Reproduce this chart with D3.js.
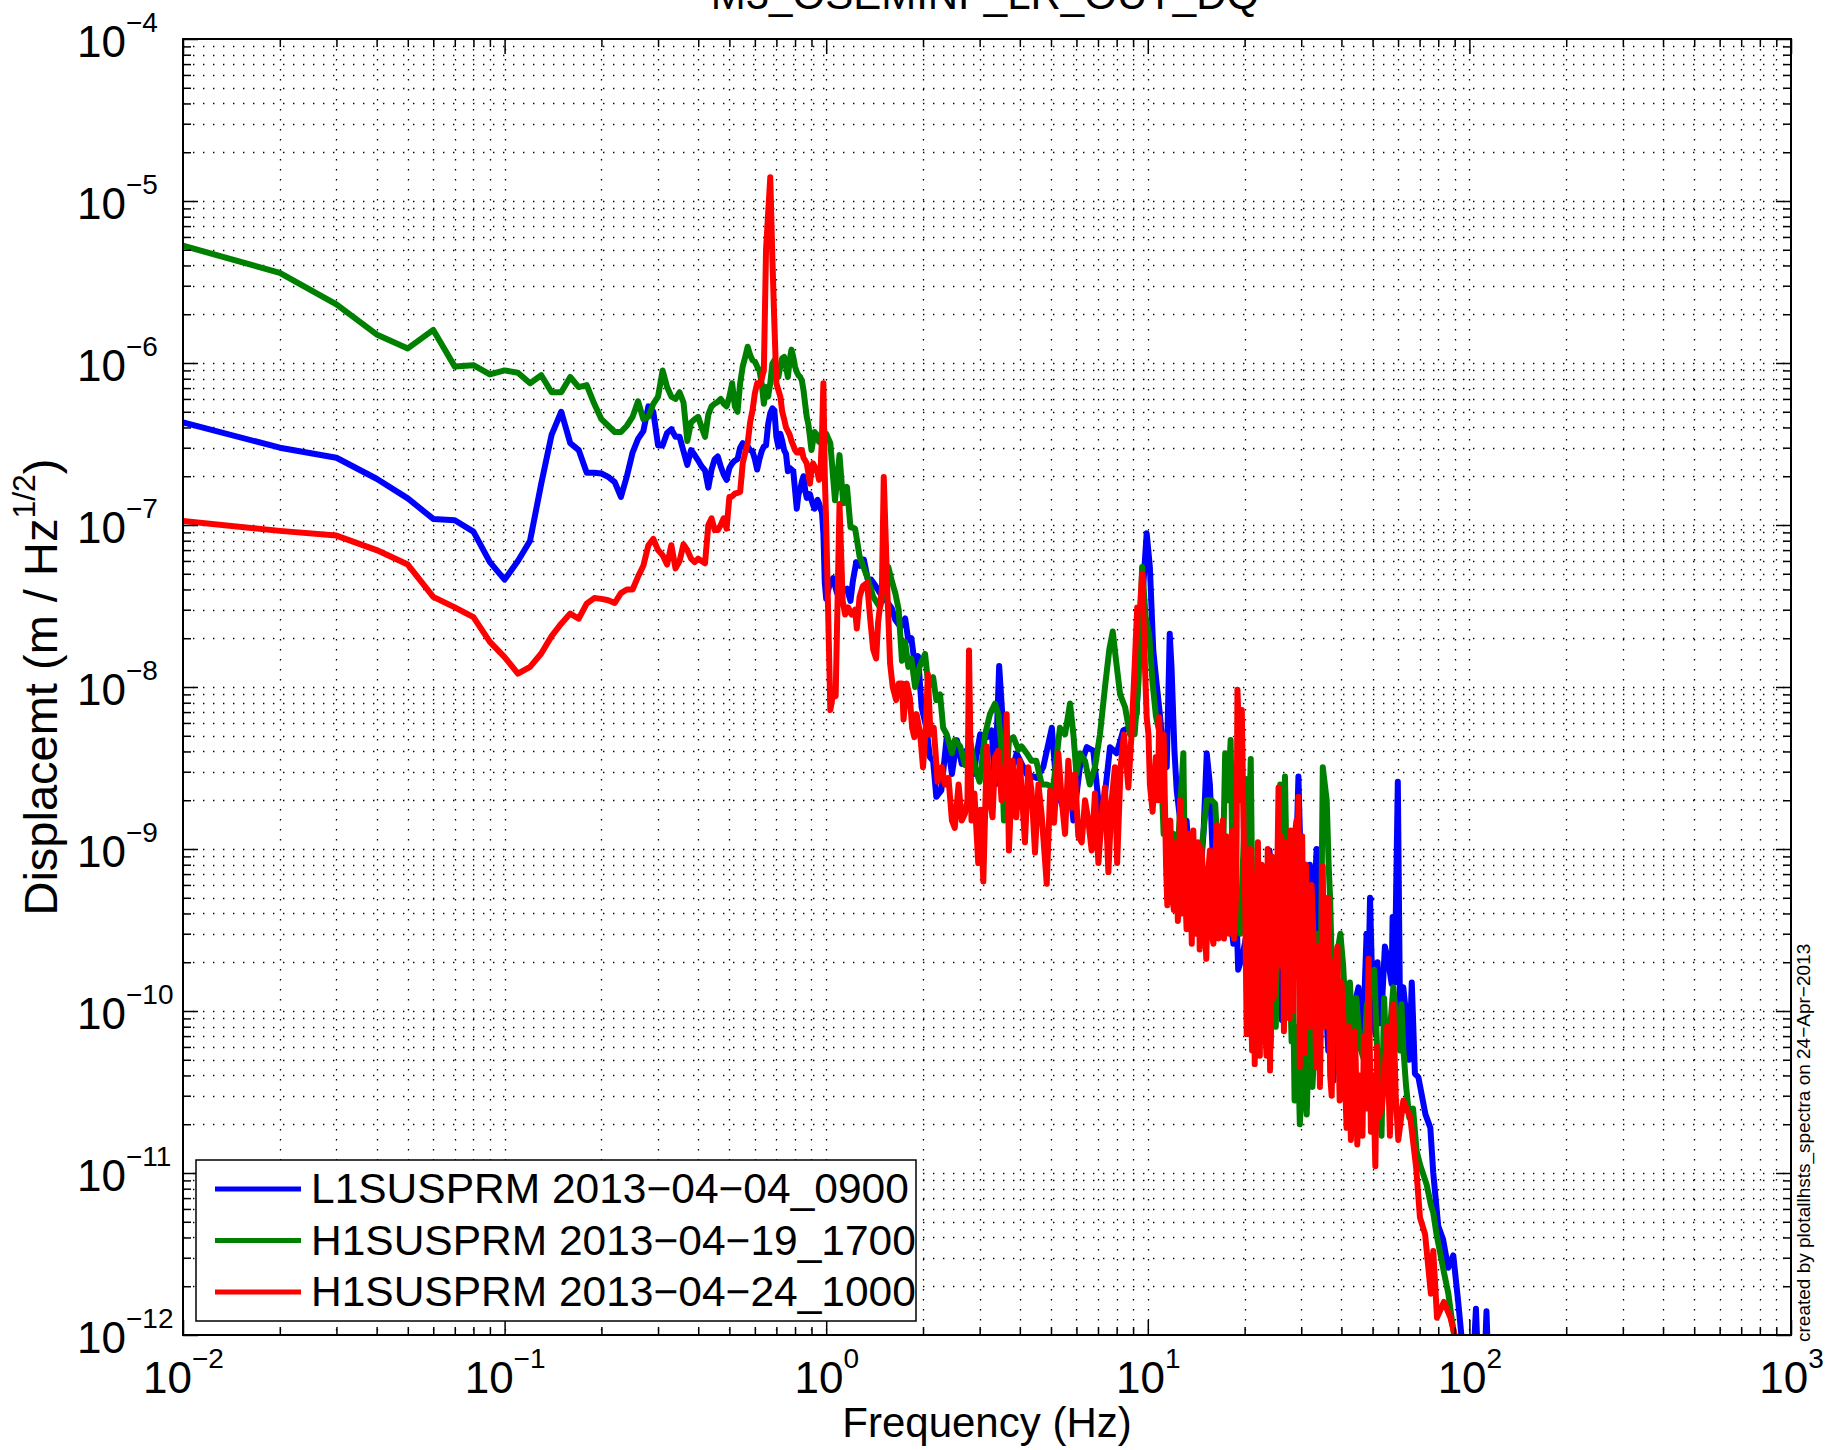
<!DOCTYPE html>
<html><head><meta charset="utf-8"><title>M3_OSEMINF_LR_OUT_DQ</title>
<script src="https://cdn.jsdelivr.net/npm/d3@7/dist/d3.min.js"></script>
<style>html,body{margin:0;padding:0;background:#fff;}svg{display:block;}</style>
</head><body>
<svg id="chart" width="1839" height="1450"></svg>
<script>
// ---------------- DATA ----------------
const chartTitle = "M3_OSEMINF_LR_OUT_DQ";
const xLabel = "Frequency (Hz)";
const yLabelMain = "Displacemt (m / Hz";
const yLabelSup = "1/2";
const sideNote = "created by plotallhsts_spectra on 24\u2212Apr\u22122013";
const seriesNames = ["L1SUSPRM 2013\u221204\u221204_0900", "H1SUSPRM 2013\u221204\u221219_1700", "H1SUSPRM 2013\u221204\u221224_1000"];
const seriesColors = ["#0000ff", "#008000", "#ff0000"];
const xDomain = [1e-2, 1e3];
const yDomain = [1e-12, 1e-4];
const xMajorTicks = [1e-2, 1e-1, 1, 10, 100, 1000];
const yMajorTicks = [1e-12, 1e-11, 1e-10, 1e-9, 1e-8, 1e-7, 1e-6, 1e-5, 1e-4];

// low-frequency grid (Hz)
const lowFreq = [0.01,0.02,0.03,0.04,0.05,0.06,0.07,0.08,0.09,0.10,
 0.11,0.12,0.13,0.14,0.15,0.16,0.17,0.18,0.19,0.20,
 0.21,0.22,0.23,0.24,0.25,0.26,0.27,0.28,0.29,0.30,
 0.31,0.32,0.33,0.34,0.35,0.36,0.37,0.38,0.39,0.40,
 0.41,0.42,0.43,0.44,0.45,0.46,0.47,0.48,0.49,0.50,
 0.51,0.52,0.53,0.54,0.55,0.56,0.57,0.58,0.59,0.60,
 0.61,0.62,0.63,0.64,0.65,0.66,0.67,0.68,0.69,0.70,
 0.71,0.72,0.73,0.74,0.75,0.76,0.77,0.78,0.79,0.80,
 0.81,0.82,0.83,0.84,0.85,0.86,0.87,0.88,0.89,0.90,
 0.91,0.92,0.93,0.94,0.95,0.96,0.97,0.98,0.99,1.00];

const l1Low = [4.3e-7,3.0e-7,2.6e-7,1.93e-7,1.46e-7,1.09e-7,1.07e-7,9.1e-8,5.9e-8,4.6e-8,
 6.0e-8,8.0e-8,1.8e-7,3.6e-7,5.0e-7,3.2e-7,2.9e-7,2.1e-7,2.1e-7,2.08e-7,
 1.98e-7,1.84e-7,1.49e-7,2.0e-7,2.8e-7,3.4e-7,3.8e-7,5.4e-7,5.0e-7,3.1e-7,
 3.1e-7,3.7e-7,3.9e-7,3.5e-7,3.5e-7,2.85e-7,2.35e-7,2.9e-7,2.7e-7,2.5e-7,
 2.3e-7,2.17e-7,1.7e-7,2.2e-7,2.55e-7,2.65e-7,2.3e-7,2.05e-7,1.9e-7,2.25e-7,
 2.4e-7,2.5e-7,2.55e-7,3.0e-7,3.2e-7,3.1e-7,3.05e-7,2.9e-7,2.85e-7,2.55e-7,
 2.2e-7,2.55e-7,2.85e-7,3.05e-7,3.1e-7,4.2e-7,4.9e-7,5.25e-7,5.1e-7,3.5e-7,
 3.05e-7,3.66e-7,3.3e-7,2.9e-7,2.75e-7,2.15e-7,2.25e-7,2.2e-7,2.15e-7,1.65e-7,
 1.26e-7,1.55e-7,1.65e-7,1.85e-7,2.0e-7,1.65e-7,1.47e-7,1.5e-7,1.55e-7,1.43e-7,
 1.33e-7,1.26e-7,1.36e-7,1.43e-7,1.36e-7,1.26e-7,1.2e-7,8.9e-8,4.4e-8,3.5e-8];

const h1aLow = [5.3e-6,3.6e-6,2.3e-6,1.5e-6,1.23e-6,1.6e-6,9.5e-7,9.7e-7,8.5e-7,9.0e-7,
 8.7e-7,7.5e-7,8.4e-7,6.6e-7,6.6e-7,8.2e-7,7.1e-7,7.3e-7,5.6e-7,4.5e-7,
 4.1e-7,3.75e-7,3.75e-7,4.1e-7,4.65e-7,5.8e-7,4.5e-7,4.65e-7,5.6e-7,6.2e-7,
 9.0e-7,7.1e-7,6.2e-7,6.0e-7,6.6e-7,5.7e-7,3.3e-7,4.3e-7,4.5e-7,4.65e-7,
 4.0e-7,3.5e-7,4.8e-7,5.4e-7,5.6e-7,5.75e-7,6.0e-7,5.6e-7,5.4e-7,6.2e-7,
 7.5e-7,5.4e-7,5.0e-7,7.5e-7,9.5e-7,1.09e-6,1.26e-6,1.12e-6,1.04e-6,1.02e-6,
 9.5e-7,9.0e-7,7.5e-7,5.6e-7,7.1e-7,6.2e-7,7.5e-7,9.9e-7,1.04e-6,9.0e-7,
 8.2e-7,9.5e-7,1.07e-6,1.09e-6,9.5e-7,8.2e-7,1.04e-6,1.21e-6,1.09e-6,9.5e-7,
 8.8e-7,8.4e-7,8.2e-7,7.8e-7,6.8e-7,5.6e-7,4.65e-7,4.2e-7,3.5e-7,2.9e-7,
 3.3e-7,3.75e-7,3.66e-7,3.4e-7,3.26e-7,3.5e-7,3.66e-7,3.3e-7,3.5e-7,3.66e-7];

const h1bLow = [1.06e-7,9.2e-8,8.6e-8,7.0e-8,5.7e-8,3.6e-8,3.1e-8,2.7e-8,1.9e-8,1.53e-8,
 1.21e-8,1.33e-8,1.61e-8,2.06e-8,2.46e-8,2.84e-8,2.64e-8,3.27e-8,3.54e-8,3.5e-8,
 3.43e-8,3.3e-8,3.8e-8,4.0e-8,4.0e-8,4.8e-8,5.6e-8,7.5e-8,8.2e-8,7.0e-8,
 6.5e-8,5.7e-8,7.5e-8,5.4e-8,6.0e-8,7.6e-8,7.0e-8,6.2e-8,5.9e-8,6.2e-8,
 6.0e-8,5.8e-8,1.0e-7,1.1e-7,9.3e-8,9.3e-8,1.0e-7,1.1e-7,9.5e-8,1.49e-7,
 1.5e-7,1.56e-7,1.58e-7,1.6e-7,2.4e-7,2.8e-7,3.2e-7,4.3e-7,5.1e-7,6.5e-7,
 7.5e-7,7.3e-7,8.0e-7,9.0e-7,5.0e-6,8.4e-6,1.4e-5,4.5e-6,1.75e-6,7.5e-7,
 6.8e-7,6.2e-7,5.0e-7,4.5e-7,4.0e-7,3.8e-7,3.6e-7,3.3e-7,3.1e-7,2.9e-7,
 2.8e-7,2.8e-7,2.9e-7,2.9e-7,2.6e-7,2.5e-7,2.4e-7,2.1e-7,1.8e-7,2.2e-7,
 2.4e-7,2.3e-7,2.2e-7,2.1e-7,1.9e-7,2.1e-7,3.5e-7,7.5e-7,2.0e-7,1.0e-7];

// above 1 Hz: [frequency (Hz), displacement]
const l1High = [[1.03,4.5e-8],[1.05,4.7e-8],[1.08,3.8e-8],[1.10,4.35e-8],[1.13,3.95e-8],[1.16,4.05e-8],[1.19,3.4e-8],[1.21,4.5e-8],[1.24,5.9e-8],[1.27,5.6e-8],[1.31,6.1e-8],[1.35,4.5e-8],[1.38,4.6e-8],[1.42,4.25e-8],[1.47,3.8e-8],[1.54,3.4e-8],[1.60,3.05e-8],[1.64,2.6e-8],[1.70,2.35e-8],[1.76,2.65e-8],[1.80,1.95e-8],[1.84,2.0e-8],[1.89,1.33e-8],[1.93,1.55e-8],[1.98,7.5e-9],[2.05,5.6e-9],[2.10,3.7e-9],[2.15,3.5e-9],[2.20,2.1e-9],[2.28,2.3e-9],[2.37,4.9e-9],[2.46,2.9e-9],[2.55,4.7e-9],[2.64,3.35e-9],[2.73,4.05e-9],[2.87,2.9e-9],[3.01,5.1e-9],[3.16,4.9e-9],[3.27,5.4e-9],[3.35,2.5e-9],[3.45,1.35e-8],[3.56,5.1e-9],[3.73,2.75e-9],[3.91,3.9e-9],[4.20,2.9e-9],[4.51,2.75e-9],[4.73,3.2e-9],[5.03,5.6e-9],[5.21,2.3e-9],[5.46,1.8e-9],[5.73,2.4e-9],[5.87,1.5e-9],[6.15,3.2e-9],[6.46,4.25e-9],[6.77,4.05e-9],[7.10,1.57e-9],[7.36,2.2e-9],[7.63,4.25e-9],[8.00,3.9e-9],[8.39,5.4e-9],[8.80,5.6e-9],[9.23,6.8e-9],[9.46,2.13e-8],[9.69,4.35e-8],[9.92,8.9e-8],[10.15,5.5e-8],[10.4,1.68e-8],[10.65,1.05e-8],[10.9,6.8e-9],[11.2,3.7e-9],[11.45,3.2e-9],[11.7,2.13e-8],[11.85,1.33e-8],[12.1,4.05e-9],[12.3,2.3e-9],[12.75,1.24e-9],[13.2,1.5e-9],[13.5,7.7e-10],[14.0,3.8e-10],[14.5,6.1e-10],[14.9,1.24e-9],[15.25,3.9e-9],[15.6,2.5e-9],[16.2,3.8e-10],[16.8,4.8e-10],[17.4,3.0e-10],[17.9,4.5e-10],[18.45,2.6e-10],[18.9,3.5e-10],[19.1,1.8e-10],[19.7,2.2e-10],[20.3,3.0e-10],[21.0,4.0e-10],[21.8,2.7e-10],[22.3,2.0e-10],[22.9,4.8e-10],[23.4,3.0e-10],[23.9,9.8e-10],[24.4,5.0e-10],[24.9,1.47e-10],[25.5,3.0e-10],[26.1,8.8e-11],[26.6,5.0e-10],[27.0,1.86e-10],[27.5,1.2e-10],[28.0,3.6e-10],[28.7,5.0e-10],[29.0,1.0e-9],[29.4,2.8e-9],[30.0,6.0e-10],[30.5,3.0e-10],[31.2,2.0e-10],[31.9,8.0e-10],[32.7,3.5e-10],[33.5,1.0e-9],[34.1,2.5e-10],[34.7,9.1e-11],[35.5,1.5e-10],[36.4,5.7e-11],[37.0,1.0e-10],[37.75,3.7e-11],[38.6,8.0e-11],[39.6,4.5e-11],[40.6,1.1e-10],[41.5,5.9e-11],[42.5,4.0e-11],[43.6,8.6e-11],[44.4,1.2e-10],[45.2,1.4e-10],[46.0,6.0e-11],[46.9,9.1e-11],[47.9,3.0e-10],[48.5,1.5e-10],[49.1,5.0e-10],[50.0,1.2e-10],[51.0,7.2e-11],[51.8,2.0e-10],[52.7,8.4e-11],[53.6,1.2e-10],[54.6,2.5e-10],[56.0,2.0e-10],[57.3,1.47e-10],[57.7,3.8e-10],[58.6,1.5e-10],[59.9,2.6e-9],[60.8,1.16e-10],[61.5,6.0e-11],[62.3,1.4e-10],[63.8,8.8e-11],[65.0,5.0e-11],[66.2,1.5e-10],[67.7,4.1e-11],[69.4,3.9e-11],[73.0,2.3e-11],[75.6,1.9e-11],[77.2,1.0e-11],[80.0,4.7e-12],[82.8,3.9e-12],[85.9,2.6e-12],[89.1,3.1e-12],[92.3,1.6e-12],[94.5,9.8e-13],[98,6e-13],[102,5e-13],[104.8,1.45e-12],[107,5e-13],[111,5e-13],[113,1.4e-12],[115,5e-13]];

const h1aHigh = [[1.03,3.2e-7],[1.065,1.42e-7],[1.10,2.7e-7],[1.13,1.36e-7],[1.16,1.72e-7],[1.19,9.7e-8],[1.23,9.5e-8],[1.27,6.4e-8],[1.34,4.8e-8],[1.40,3.6e-8],[1.47,3.1e-8],[1.52,4.1e-8],[1.56,5.5e-8],[1.60,4.5e-8],[1.64,3.8e-8],[1.68,3.0e-8],[1.72,1.45e-8],[1.76,1.9e-8],[1.80,1.33e-8],[1.84,1.5e-8],[1.89,1.0e-8],[1.95,1.33e-8],[2.03,1.6e-8],[2.08,1.0e-8],[2.15,1.15e-8],[2.20,8.3e-9],[2.26,9.0e-9],[2.31,5.6e-9],[2.37,5.1e-9],[2.46,3.9e-9],[2.51,4.7e-9],[2.61,4.3e-9],[2.70,3.3e-9],[2.80,4.7e-9],[2.90,3.2e-9],[3.00,2.6e-9],[3.12,5.1e-9],[3.23,6.8e-9],[3.35,7.9e-9],[3.43,6.8e-9],[3.51,4.1e-9],[3.57,1.5e-9],[3.70,4.7e-9],[3.82,4.9e-9],[3.96,4.1e-9],[4.05,4.3e-9],[4.20,3.9e-9],[4.35,3.5e-9],[4.50,3.5e-9],[4.68,2.5e-9],[4.85,2.5e-9],[5.08,2.4e-9],[5.33,5.6e-9],[5.53,5.1e-9],[5.73,7.9e-9],[5.87,5.1e-9],[6.00,2.9e-9],[6.15,3.9e-9],[6.38,3.5e-9],[6.60,2.5e-9],[6.85,3.2e-9],[7.10,5.1e-9],[7.36,1.0e-8],[7.59,1.7e-8],[7.78,2.2e-8],[7.97,1.45e-8],[8.20,9.0e-9],[8.50,7.5e-9],[8.80,5.1e-9],[9.10,5.1e-9],[9.35,1.05e-8],[9.60,5.5e-8],[9.85,2.7e-8],[10.1,2.1e-8],[10.35,1.05e-8],[10.6,6.6e-9],[10.9,5.1e-9],[11.2,1.24e-9],[11.45,1.5e-9],[11.7,6.1e-10],[12.0,1.24e-9],[12.4,1.0e-9],[12.9,3.9e-9],[13.05,6.1e-10],[13.5,4.8e-10],[14.1,6.1e-10],[14.6,8.7e-10],[15.25,2.0e-9],[15.8,2.0e-9],[16.2,1.9e-9],[16.6,7.7e-10],[17.0,3.8e-10],[17.4,3.9e-9],[17.7,2.0e-9],[18.1,4.7e-9],[18.45,3.4e-10],[18.9,4.8e-10],[19.4,3.0e-10],[20.2,2.7e-9],[20.5,7.7e-10],[20.9,3.6e-9],[21.2,2.6e-10],[21.5,1.6e-10],[21.8,4.0e-10],[22.3,7.7e-10],[22.6,1.5e-10],[22.9,3.0e-10],[23.3,1.2e-10],[23.7,5.0e-10],[24.1,6.0e-11],[24.5,2.0e-10],[25.0,8.0e-11],[25.4,6.0e-10],[25.8,2.5e-9],[26.2,3.0e-10],[26.7,2.8e-9],[26.9,1.2e-9],[27.1,6.1e-10],[27.5,2.4e-10],[28.0,6.5e-11],[28.3,1.5e-10],[28.6,2.8e-11],[29.2,8.0e-11],[29.7,2.0e-11],[30.5,6.0e-11],[31.2,2.3e-11],[31.8,1.0e-10],[32.5,3.4e-11],[33.0,6.0e-11],[33.5,3.0e-10],[34.3,5.7e-11],[34.6,3.0e-10],[35.0,3.2e-9],[36.0,2.0e-9],[36.5,8.0e-10],[36.9,4.9e-10],[37.3,2.0e-10],[37.8,1.2e-10],[38.4,9.0e-11],[39.0,2.4e-10],[39.7,3.0e-10],[40.5,1.9e-10],[41.0,1.2e-10],[41.5,7.0e-11],[42.5,1.5e-10],[43.5,5.7e-11],[44.5,1.2e-10],[45.7,6.0e-11],[47.0,5.0e-11],[48.0,1.1e-10],[49.5,1.3e-10],[50.6,1.8e-10],[52.0,4.0e-11],[53.3,1.7e-11],[54.3,1.2e-10],[55.3,4.5e-11],[56.2,3.0e-11],[57.0,9.0e-11],[58.0,1.4e-10],[59.3,9.0e-11],[60.8,5.7e-11],[61.5,1.1e-10],[62.3,5.9e-11],[63.5,3.5e-11],[65.0,2.2e-11],[66.8,2.5e-11],[68.5,1.37e-11],[70.2,1.13e-11],[73.6,8.5e-12],[76.0,6.3e-12],[77.2,5.7e-12],[79.0,4.2e-12],[82.8,2.6e-12],[86.0,1.8e-12],[88.0,1.28e-12],[90.0,9.5e-13],[92,6e-13]];

const h1bHigh = [[1.03,7.2e-9],[1.05,9.0e-9],[1.07,8.8e-9],[1.10,1.35e-7],[1.125,3.4e-8],[1.145,2.8e-8],[1.17,3.1e-8],[1.20,2.8e-8],[1.23,3.0e-8],[1.245,2.3e-8],[1.27,3.6e-8],[1.30,4.2e-8],[1.34,4.4e-8],[1.37,2.65e-8],[1.40,1.7e-8],[1.43,1.5e-8],[1.45,2.5e-8],[1.49,4.0e-8],[1.51,1.98e-7],[1.55,3.8e-8],[1.58,1.4e-8],[1.61,1.0e-8],[1.65,8.3e-9],[1.68,1.05e-8],[1.72,1.05e-8],[1.74,6.3e-9],[1.78,1.05e-8],[1.82,8.6e-9],[1.85,5.6e-9],[1.88,4.9e-9],[1.91,6.8e-9],[1.96,5.1e-9],[2.00,3.2e-9],[2.04,5.6e-9],[2.07,1.2e-8],[2.11,5.1e-9],[2.16,5.6e-9],[2.22,2.6e-9],[2.29,3.2e-9],[2.34,2.5e-9],[2.40,2.75e-9],[2.46,1.5e-9],[2.51,1.35e-9],[2.58,2.5e-9],[2.64,1.5e-9],[2.70,1.65e-9],[2.75,2.0e-9],[2.78,1.68e-8],[2.83,1.5e-9],[2.89,2.2e-9],[2.97,8.2e-10],[3.02,1.75e-9],[3.08,6.3e-10],[3.16,4.3e-9],[3.23,2.0e-9],[3.29,1.57e-9],[3.35,3.7e-9],[3.43,4.05e-9],[3.51,2.0e-9],[3.60,2.3e-9],[3.64,6.8e-9],[3.70,9.8e-10],[3.80,3.5e-9],[3.90,1.57e-9],[4.00,3.5e-9],[4.15,1.1e-9],[4.25,3.2e-9],[4.35,2.3e-9],[4.46,9.5e-10],[4.57,2.5e-9],[4.68,1.6e-9],[4.85,6.1e-10],[4.97,2.3e-9],[5.11,1.45e-9],[5.27,3.9e-9],[5.40,2.0e-9],[5.53,1.24e-9],[5.66,3.5e-9],[5.80,1.8e-9],[5.94,2.9e-9],[6.08,1.2e-9],[6.23,1.1e-9],[6.38,2.0e-9],[6.53,1.5e-9],[6.69,9.8e-10],[6.85,2.2e-9],[7.02,8.2e-10],[7.19,1.6e-9],[7.36,2.4e-9],[7.54,7.2e-10],[7.72,2.0e-9],[7.90,3.2e-9],[8.03,8.2e-10],[8.23,3.2e-9],[8.43,5.1e-9],[8.70,2.4e-9],[8.90,5.1e-9],[9.10,1.33e-8],[9.27,3.1e-8],[9.46,3.1e-8],[9.60,5.0e-8],[9.80,1.33e-8],[9.92,6.5e-9],[10.05,5.1e-9],[10.15,2.5e-9],[10.35,1.7e-9],[10.6,3.7e-9],[10.75,2.0e-9],[10.85,6.5e-9],[11.05,2.0e-9],[11.2,5.1e-9],[11.4,7.7e-10],[11.5,4.5e-10],[11.6,1.24e-9],[11.75,1.5e-9],[11.9,5.5e-10],[12.05,4.2e-10],[12.2,9.8e-10],[12.3,1.1e-9],[12.4,3.6e-10],[12.5,5.0e-10],[12.6,2.0e-9],[12.75,4.0e-10],[12.85,1.24e-9],[12.95,1.5e-9],[13.05,6.1e-10],[13.2,3.2e-10],[13.4,1.24e-9],[13.55,8.0e-10],[13.7,2.6e-10],[13.85,1.3e-9],[14.0,5.0e-10],[14.15,3.0e-10],[14.3,1.1e-9],[14.4,9.0e-10],[14.5,2.4e-10],[14.7,1.0e-9],[14.9,6.1e-10],[15.05,3.5e-10],[15.2,2.1e-10],[15.4,7.0e-10],[15.6,9.8e-10],[15.8,3.0e-10],[16.0,2.6e-10],[16.2,8.5e-10],[16.4,1.4e-9],[16.6,2.8e-10],[16.8,3.2e-10],[16.95,5.0e-10],[17.1,1.5e-9],[17.25,2.8e-10],[17.4,6.1e-10],[17.55,1.2e-9],[17.7,9.8e-10],[17.9,3.0e-10],[18.1,3.5e-10],[18.25,7.0e-10],[18.4,1.3e-9],[18.55,2.8e-10],[18.7,3.8e-10],[18.85,6.0e-10],[19.0,9.6e-9],[19.2,5.1e-9],[19.4,2.0e-9],[19.6,7.2e-9],[19.9,9.8e-10],[20.05,6.0e-10],[20.3,7.2e-11],[20.55,2.5e-10],[20.8,1.0e-9],[20.95,1.2e-10],[21.1,5.7e-11],[21.3,7.0e-10],[21.5,4.7e-11],[21.65,2.0e-10],[21.8,5.0e-10],[22.0,1.1e-9],[22.3,5.3e-11],[22.6,8.0e-10],[22.9,1.86e-10],[23.1,9.0e-11],[23.4,5.3e-11],[23.6,1.0e-9],[23.8,6.0e-10],[24.0,4.3e-11],[24.3,9.0e-10],[24.6,1.2e-10],[24.9,1.5e-10],[25.2,4.8e-10],[25.5,2.4e-9],[25.8,1.9e-10],[26.0,1.2e-9],[26.3,6.0e-10],[26.5,7.5e-11],[26.8,5.0e-10],[27.0,1.1e-9],[27.3,1.5e-10],[27.6,9.0e-11],[27.8,1.3e-9],[28.0,7.7e-10],[28.3,1.0e-10],[28.6,1.2e-9],[29.0,1.5e-9],[29.2,2.0e-10],[29.4,2.1e-9],[29.7,4.5e-11],[29.9,9.0e-10],[30.2,1.2e-9],[30.5,2.5e-10],[30.8,5.5e-11],[31.0,8.0e-10],[31.2,4.8e-10],[31.5,1.0e-10],[31.9,8.0e-11],[32.3,6.0e-10],[32.7,3.0e-10],[33.0,1.5e-10],[33.4,4.5e-11],[33.8,2.5e-10],[34.3,3.4e-11],[34.6,1.2e-10],[35.0,7.8e-10],[35.4,8.0e-11],[35.9,1.86e-10],[36.3,5.0e-10],[36.9,4.0e-11],[37.3,3.0e-11],[37.7,1.2e-10],[38.2,2.0e-10],[38.9,2.5e-10],[39.2,6.0e-11],[39.5,2.8e-11],[40.0,1.5e-10],[40.5,1.0e-10],[41.0,4.0e-11],[41.5,1.9e-11],[42.2,8.0e-11],[42.8,1.6e-11],[43.3,2.5e-11],[43.9,7.5e-11],[44.3,5.0e-11],[44.8,1.5e-11],[45.5,4.0e-11],[46.5,1.7e-11],[47.0,7.0e-11],[47.8,2.5e-11],[48.6,2.1e-10],[49.0,6.0e-11],[49.4,1.8e-11],[50.2,4.0e-11],[51.0,1.1e-11],[51.6,6.0e-11],[52.2,2.2e-11],[53.4,2.5e-11],[54.6,4.3e-11],[55.5,8.0e-11],[56.6,1.7e-11],[57.2,4.0e-11],[58.0,1.1e-10],[59.0,3.0e-11],[60.1,1.6e-11],[62.3,2.8e-11],[65.5,2.2e-11],[68.3,1.08e-11],[70.2,5.3e-12],[72.8,4.2e-12],[75.9,1.8e-12],[77.2,3.3e-12],[79.3,1.28e-12],[83.3,1.6e-12],[87.3,1.28e-12],[90.5,9.5e-13],[93,6e-13]];

// ---------------- DRAWING ----------------
const FONT = '"Liberation Sans", Arial, Helvetica, sans-serif';
const W = 1839, H = 1450;
const P = {l: 183, r: 1791, t: 39, b: 1335};
const svg = d3.select("#chart").attr("font-family", FONT);
svg.append("rect").attr("width", W).attr("height", H).attr("fill", "#fff");

const x = d3.scaleLog().domain(xDomain).range([P.l, P.r]);
const y = d3.scaleLog().domain(yDomain).range([P.b, P.t]);
const isMajor = d => Math.abs(Math.log10(d) - Math.round(Math.log10(d))) < 1e-6;
const xAll = x.ticks(), yAll = y.ticks();
const xMinor = xAll.filter(d => !isMajor(d));
const yMinor = yAll.filter(d => !isMajor(d));
const expStr = d => { const e = Math.round(Math.log10(d)); return e < 0 ? "\u2212" + (-e) : String(e); };

// dotted grid
const grid = svg.append("g").attr("stroke", "#000").attr("stroke-width", 1.3)
  .attr("stroke-dasharray", "1.4,8.6").attr("fill", "none");
grid.selectAll(".gx").data(xAll.filter(d => d > xDomain[0] * 1.001 && d < xDomain[1] * 0.999)).join("line")
  .attr("x1", d => Math.round(x(d)) + 0.5).attr("x2", d => Math.round(x(d)) + 0.5)
  .attr("y1", P.t).attr("y2", P.b);
grid.selectAll(".gy").data(yAll.filter(d => d > yDomain[0] * 1.001 && d < yDomain[1] * 0.999)).join("line")
  .attr("y1", d => Math.round(y(d)) + 0.5).attr("y2", d => Math.round(y(d)) + 0.5)
  .attr("x1", P.l).attr("x2", P.r);

// data
svg.append("clipPath").attr("id", "plotclip").append("rect")
  .attr("x", P.l).attr("y", P.t).attr("width", P.r - P.l).attr("height", P.b - P.t);
const series = [
  lowFreq.map((f, i) => [f, l1Low[i]]).concat(l1High),
  lowFreq.map((f, i) => [f, h1aLow[i]]).concat(h1aHigh),
  lowFreq.map((f, i) => [f, h1bLow[i]]).concat(h1bHigh)
];
const line = d3.line().x(d => x(d[0])).y(d => y(d[1]));
svg.append("g").attr("clip-path", "url(#plotclip)")
  .selectAll("path").data(series).join("path")
  .attr("d", line).attr("fill", "none")
  .attr("stroke", (d, i) => seriesColors[i]).attr("stroke-width", 6)
  .attr("stroke-linejoin", "round").attr("stroke-linecap", "round");

// axes (ticks inward on all four sides)
function clean(g) {
  g.select(".domain").remove();
  g.selectAll(".tick line").attr("stroke", "#000").attr("stroke-width", 1.5);
}
const noText = g => g.selectAll(".tick text").remove();
svg.append("g").attr("transform", `translate(0,${P.b})`).call(d3.axisBottom(x).tickValues(xMinor).tickSize(-8).tickFormat("")).call(clean).call(noText);
svg.append("g").attr("transform", `translate(0,${P.t})`).call(d3.axisTop(x).tickValues(xMinor).tickSize(-8).tickFormat("")).call(clean).call(noText);
svg.append("g").attr("transform", `translate(${P.l},0)`).call(d3.axisLeft(y).tickValues(yMinor).tickSize(-8).tickFormat("")).call(clean).call(noText);
svg.append("g").attr("transform", `translate(${P.r},0)`).call(d3.axisRight(y).tickValues(yMinor).tickSize(-8).tickFormat("")).call(clean).call(noText);
svg.append("g").attr("transform", `translate(0,${P.t})`).call(d3.axisTop(x).tickValues(xMajorTicks).tickSize(-15).tickFormat("")).call(clean).call(noText);
svg.append("g").attr("transform", `translate(${P.r},0)`).call(d3.axisRight(y).tickValues(yMajorTicks).tickSize(-15).tickFormat("")).call(clean).call(noText);

const gxb = svg.append("g").attr("transform", `translate(0,${P.b})`)
  .call(d3.axisBottom(x).tickValues(xMajorTicks).tickSize(-15).tickFormat("")).call(clean);
gxb.attr("font-family", FONT).attr("font-size", 44);
gxb.selectAll(".tick text").attr("y", 58).attr("dy", null).attr("fill", "#000").attr("text-anchor", "middle")
  .each(function (d) {
    const t = d3.select(this);
    t.append("tspan").text("10");
    t.append("tspan").attr("dy", -25).attr("font-size", 28).text(expStr(d));
  });

const gyl = svg.append("g").attr("transform", `translate(${P.l},0)`)
  .call(d3.axisLeft(y).tickValues(yMajorTicks).tickSize(-15).tickFormat("")).call(clean);
gyl.attr("font-family", FONT).attr("font-size", 44);
gyl.selectAll(".tick text").attr("x", 77 - P.l).attr("y", 17).attr("dy", null).attr("fill", "#000").attr("text-anchor", "start")
  .each(function (d) {
    const t = d3.select(this);
    t.append("tspan").text("10");
    t.append("tspan").attr("dy", -25).attr("font-size", 28).text(expStr(d));
  });

// box
svg.append("rect").attr("x", P.l).attr("y", P.t).attr("width", P.r - P.l).attr("height", P.b - P.t)
  .attr("fill", "none").attr("stroke", "#000").attr("stroke-width", 2);

// labels
svg.append("text").attr("x", (P.l + P.r) / 2).attr("y", 1437).attr("text-anchor", "middle")
  .attr("font-size", 42).attr("fill", "#000").text(xLabel);
const yl = svg.append("text").attr("transform", `translate(57,${(P.t + P.b) / 2}) rotate(-90)`)
  .attr("text-anchor", "middle").attr("font-size", 47).attr("fill", "#000");
yl.append("tspan").text(yLabelMain);
yl.append("tspan").attr("dy", -22).attr("font-size", 32).text(yLabelSup);
yl.append("tspan").attr("dy", 22).text(")");
svg.append("text").attr("x", 985).attr("y", 9).attr("text-anchor", "middle")
  .attr("font-size", 42).attr("fill", "#000").text(chartTitle);
svg.append("text").attr("transform", "translate(1810,1342) rotate(-90)").attr("text-anchor", "start")
  .attr("font-size", 19).attr("fill", "#000").text(sideNote);

// legend
const lg = svg.append("g");
lg.append("rect").attr("x", 196).attr("y", 1160).attr("width", 720).attr("height", 161)
  .attr("fill", "#fff").attr("stroke", "#000").attr("stroke-width", 1.5);
const items = lg.selectAll("g.item").data(seriesNames).join("g")
  .attr("transform", (d, i) => `translate(0,${1189 + i * 51.5})`);
items.append("line").attr("x1", 215).attr("x2", 301).attr("y1", 0).attr("y2", 0)
  .attr("stroke", (d, i) => seriesColors[i]).attr("stroke-width", 5);
items.append("text").attr("x", 311).attr("y", 14).attr("font-size", 42.5).attr("fill", "#000").text(d => d);
</script>
</body></html>
